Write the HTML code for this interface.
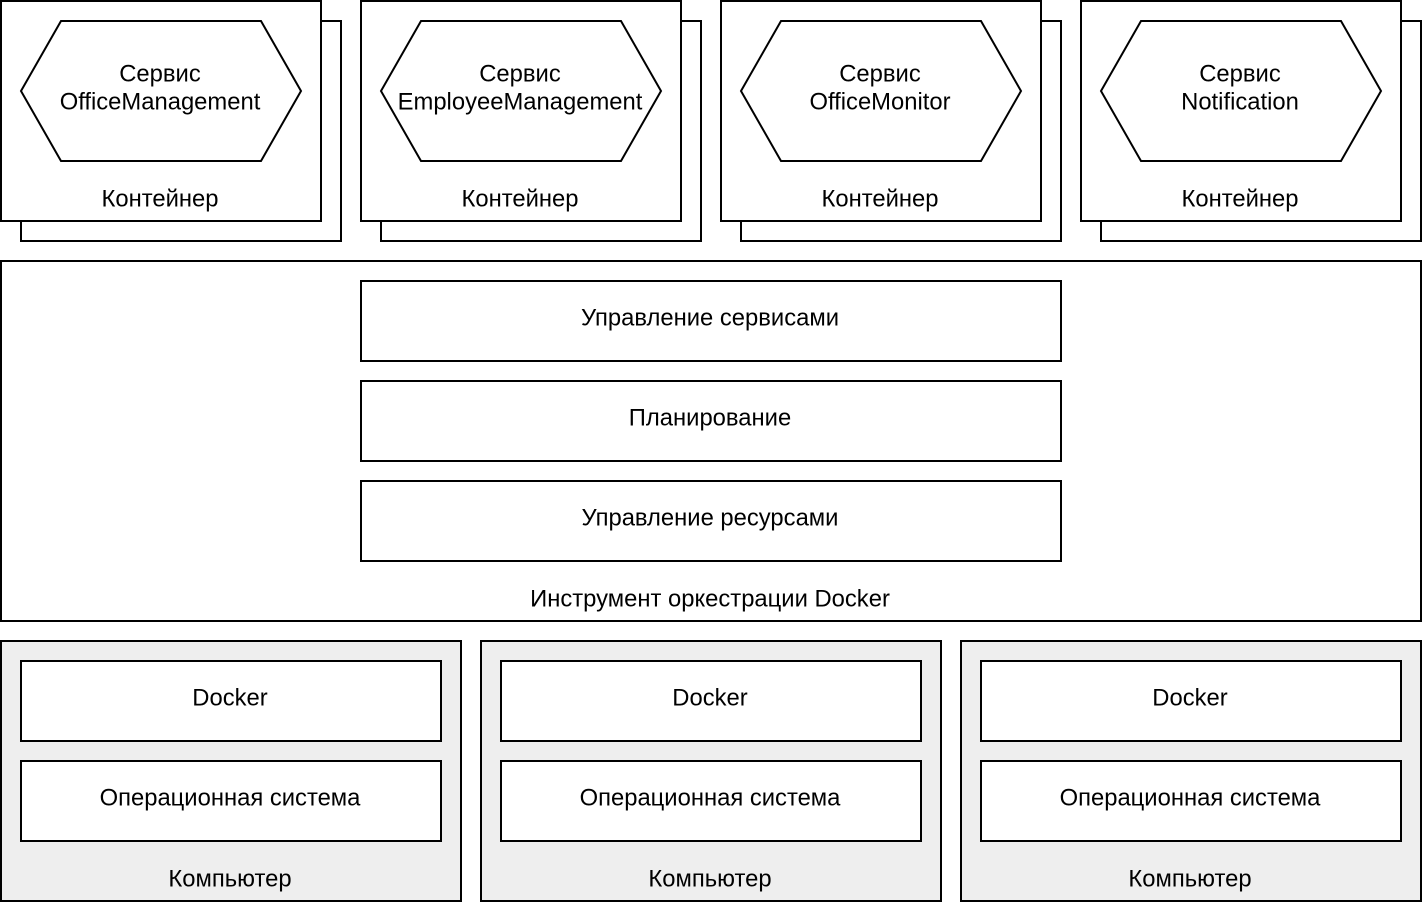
<!DOCTYPE html>
<html><head><meta charset="utf-8"><style>body{margin:0;background:#fff}svg{display:block}text{font-family:"Liberation Sans",Arial,sans-serif;font-size:23.8px;fill:#000;text-anchor:middle;dominant-baseline:central}</style></head>
<body>
<svg width="1422" height="902" viewBox="0 0 1422 902" xmlns="http://www.w3.org/2000/svg">
<g fill="#fff" stroke="#000" stroke-width="2">
<g id="c">
<rect x="21" y="21" width="320" height="220"/>
<rect x="1" y="1" width="320" height="220"/>
<polygon points="21,91 61,21 261,21 301,91 261,161 61,161"/>
</g>
<use href="#c" x="360"/><use href="#c" x="720"/><use href="#c" x="1080"/>
<rect x="1" y="261" width="1420" height="360"/>
<rect x="361" y="281" width="700" height="80"/>
<rect x="361" y="381" width="700" height="80"/>
<rect x="361" y="481" width="700" height="80"/>
<g id="p">
<rect x="1" y="641" width="460" height="260" fill="#eeeeee"/>
<rect x="21" y="661" width="420" height="80"/>
<rect x="21" y="761" width="420" height="80"/>
</g>
<use href="#p" x="480"/><use href="#p" x="960"/>
</g>
<g transform="translate(-1,0)">
<text x="161" y="74">Сервис</text><text x="161" y="102">OfficeManagement</text><text x="161" y="199">Контейнер</text>
<text x="521" y="74">Сервис</text><text x="521" y="102">EmployeeManagement</text><text x="521" y="199">Контейнер</text>
<text x="881" y="74">Сервис</text><text x="881" y="102">OfficeMonitor</text><text x="881" y="199">Контейнер</text>
<text x="1241" y="74">Сервис</text><text x="1241" y="102">Notification</text><text x="1241" y="199">Контейнер</text>
<text x="711" y="318">Управление сервисами</text>
<text x="711" y="418">Планирование</text>
<text x="711" y="518">Управление ресурсами</text>
<text x="711" y="599">Инструмент оркестрации Docker</text>
<text x="231" y="698">Docker</text><text x="231" y="798">Операционная система</text><text x="231" y="879">Компьютер</text>
<text x="711" y="698">Docker</text><text x="711" y="798">Операционная система</text><text x="711" y="879">Компьютер</text>
<text x="1191" y="698">Docker</text><text x="1191" y="798">Операционная система</text><text x="1191" y="879">Компьютер</text>
</g>
</svg>
</body></html>
